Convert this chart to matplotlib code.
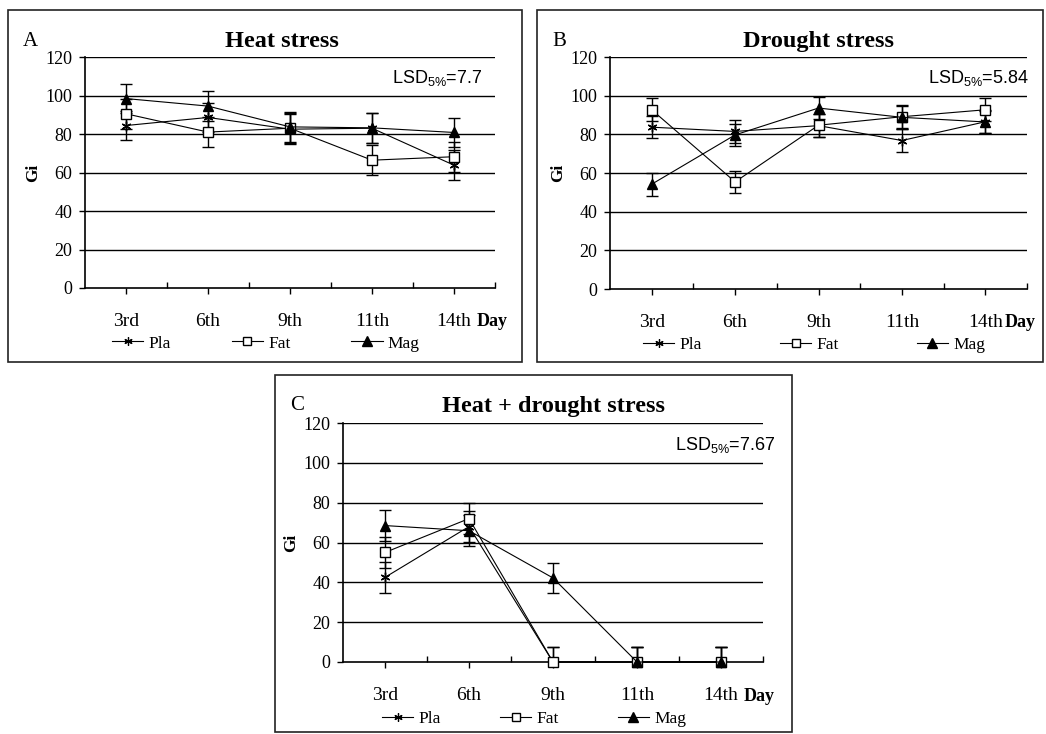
import matplotlib
matplotlib.use("Agg")
import matplotlib.pyplot as plt
from matplotlib.patches import Rectangle
from matplotlib.lines import Line2D
import numpy as np

plt.rcParams['font.family'] = ['Liberation Serif', 'DejaVu Serif']
plt.rcParams['mathtext.fontset'] = 'custom'
plt.rcParams['mathtext.rm'] = 'Liberation Sans'
plt.rcParams['mathtext.it'] = 'Liberation Sans'

days = ["3rd", "6th", "9th", "11th", "14th"]
series_names = ["Pla", "Fat", "Mag"]

# Panel A: Heat stress
heat_pla = [84.4, 88.6, 82.5, 83.0, 63.8]
heat_fat = [90.5, 81.0, 83.0, 66.4, 68.2]
heat_mag = [98.4, 94.5, 83.7, 83.2, 80.8]
heat_lsd = 7.7

# Panel B: Drought stress
drought_pla = [83.7, 81.5, 84.5, 76.8, 86.5]
drought_fat = [92.7, 55.4, 84.7, 89.1, 92.7]
drought_mag = [54.2, 79.7, 93.6, 88.8, 86.4]
drought_lsd = 5.84

# Panel C: Heat + drought stress
hd_pla = [42.5, 68.0, 0.0, 0.0, 0.0]
hd_fat = [55.0, 72.0, 0.0, 0.0, 0.0]
hd_mag = [68.5, 65.9, 42.2, 0.0, 0.0]
hd_lsd = 7.67

W, H = 1046, 734
fig = plt.figure(figsize=(W / 100, H / 100), dpi=100)


def fx(px):
    return px / W


def fy(py):
    return 1 - py / H


def panel(box, ax_rect, letter, title, pla, fat, mag, lsd, lsd_txt,
          lsd_x, title_x, leg_x, leg_cs, day_x):
    bx0, by0, bx1, by1 = box
    fig.patches.append(Rectangle((fx(bx0), fy(by1)), fx(bx1 - bx0), (by1 - by0) / H,
                                 transform=fig.transFigure, fill=False,
                                 edgecolor='#222222', linewidth=1.2, zorder=0))
    l, t, r, b = ax_rect
    ax = fig.add_axes([fx(l), fy(b), fx(r - l), (b - t) / H])
    x = np.arange(len(days))
    for vals, mk, ms, mfc, lab in [
        (pla, (6, 2, 0), 7, 'black', 'Pla'),
        (fat, 's', 6.5, 'white', 'Fat'),
        (mag, '^', 7, 'black', 'Mag'),
    ]:
        ax.errorbar(x, vals, yerr=lsd, fmt='none', ecolor='black', elinewidth=1.0,
                    capsize=4, capthick=1.0, zorder=3)
        ax.plot(x, vals, color='black', lw=0.8, marker=mk, ms=ms, mfc=mfc,
                mec='black', mew=1.0, zorder=4, clip_on=False, label=lab)
    ax.set_xlim(-0.5, len(days) - 0.5)
    ax.set_ylim(0, 120)
    ax.set_yticks(np.arange(0, 121, 20))
    for yv in range(20, 121, 20):
        ax.axhline(yv, color='black', lw=1.0, zorder=1)
    ax.set_xticks(x)
    ax.set_xticklabels(days, fontsize=14)
    ax.set_xticks(np.arange(0.5, len(days), 1.0), minor=True)
    ax.tick_params(axis='x', which='major', direction='out', length=4, width=1, pad=14)
    ax.tick_params(axis='x', which='minor', direction='in', length=4, width=1)
    ax.tick_params(axis='y', direction='out', length=4, width=1, labelsize=13, pad=5)
    for s in ['top', 'right']:
        ax.spines[s].set_visible(False)
    for s in ['left', 'bottom']:
        ax.spines[s].set_linewidth(1.2)
    ax.set_facecolor('none')
    ax.set_ylabel('Gi', fontsize=12.5, fontweight='bold', labelpad=3)
    ax.text(day_x, -0.145, 'Day', transform=ax.transAxes, fontsize=13,
            fontweight='bold', ha='left', va='center')
    ax.text(title_x, 1.068, title, transform=ax.transAxes, fontsize=17.5,
            fontweight='bold', ha='center', va='center')
    ax.text(fx(bx0 + 22), fy(by0 + 31), letter, transform=fig.transFigure,
            fontsize=15, ha='center', va='center')
    ax.text(lsd_x, 0.91, lsd_txt, transform=ax.transAxes, fontsize=13,
            family=['Liberation Sans'], ha='right', va='center')
    handles = [
        Line2D([], [], color='black', lw=0.8, marker=(6, 2, 0), ms=6, mew=0.9),
        Line2D([], [], color='black', lw=0.8, marker='s', ms=6, mfc='white', mec='black'),
        Line2D([], [], color='black', lw=0.8, marker='^', ms=7, mfc='black', mec='black'),
    ]
    ax.legend(handles, series_names, loc='upper left', bbox_to_anchor=(leg_x, -0.205),
              ncol=3, frameon=False, fontsize=12.5, handlelength=1.8,
              columnspacing=leg_cs, handletextpad=0.3, borderaxespad=0, borderpad=0)
    return ax


panel((8, 10, 522, 362), (85, 57, 495, 288), 'A', 'Heat stress',
      heat_pla, heat_fat, heat_mag, heat_lsd, r'LSD$_{5\%}$=7.7',
      0.97, 0.48, 0.066, 3.5, 0.955)
panel((537, 10, 1043, 362), (610, 57, 1027, 289), 'B', 'Drought stress',
      drought_pla, drought_fat, drought_mag, drought_lsd, r'LSD$_{5\%}$=5.84',
      1.005, 0.5, 0.079, 4.5, 0.947)
panel((275, 375, 792, 732), (343, 423, 763, 662), 'C', 'Heat + drought stress',
      hd_pla, hd_fat, hd_mag, hd_lsd, r'LSD$_{5\%}$=7.67',
      1.03, 0.5, 0.093, 3.4, 0.955)

fig.savefig('out.png', dpi=100)
